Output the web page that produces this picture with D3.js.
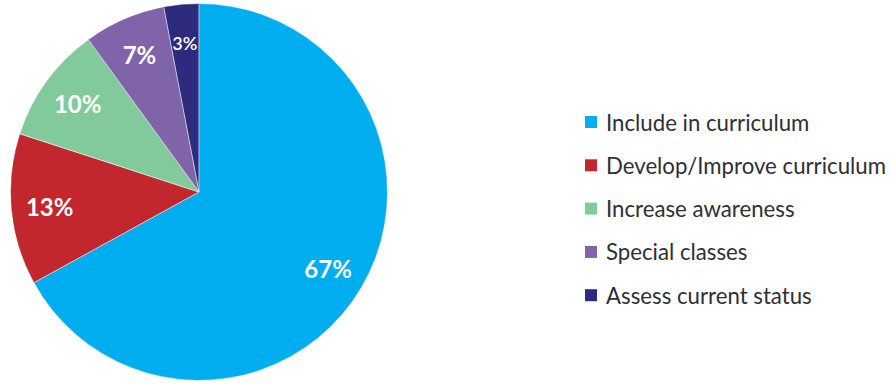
<!DOCTYPE html>
<html>
<head>
<meta charset="utf-8">
<script src="https://cdn.jsdelivr.net/npm/d3@7"></script>
<style>
  html, body { margin: 0; padding: 0; background: #ffffff; }
  svg { display: block; }
</style>
</head>
<body>
<svg id="chart" width="893" height="384"></svg>
<script>
// Survey responses: share of each recommended action
const categories = [
  "Include in curriculum",
  "Develop/Improve curriculum",
  "Increase awareness",
  "Special classes",
  "Assess current status"
];
const values = [67, 13, 10, 7, 3];
const colors = ["#00AEEF", "#C1272D", "#82CA9C", "#8064A9", "#2E2A7D"];

const svg = d3.select("#chart");
const cx = 199, cy = 192, radius = 188;
const FONT = "Lato, 'Open Sans', sans-serif";

const pie = d3.pie().sort(null).value(d => d.value);
const arcs = pie(categories.map((c, i) => ({ name: c, value: values[i], color: colors[i] })));

const arc = d3.arc().innerRadius(0).outerRadius(radius);
const labelArc = d3.arc().innerRadius(150).outerRadius(150);

const g = svg.append("g").attr("transform", `translate(${cx},${cy})`);

g.selectAll("path.slice")
  .data(arcs)
  .join("path")
  .attr("class", "slice")
  .attr("d", arc)
  .attr("fill", d => d.data.color)
  .attr("stroke", d => d.data.color)
  .attr("stroke-width", 0.5);

// thin light divider lines between slices
g.selectAll("line.div")
  .data(arcs)
  .join("line")
  .attr("class", "div")
  .attr("x1", 0).attr("y1", 0)
  .attr("x2", d => radius * Math.sin(d.startAngle))
  .attr("y2", d => -radius * Math.cos(d.startAngle))
  .attr("stroke", "#e8eef2")
  .attr("stroke-width", 0.8);

g.selectAll("text.pct")
  .data(arcs)
  .join("text")
  .attr("class", "pct")
  .attr("transform", d => `translate(${labelArc.centroid(d)})`)
  .attr("text-anchor", "middle")
  .attr("dominant-baseline", "central")
  .attr("font-family", FONT)
  .attr("font-weight", d => d.data.value < 5 ? 600 : 700)
  .attr("font-size", d => d.data.value < 5 ? 18 : 24)
  .attr("fill", "#ffffff")
  .text(d => d.data.value + "%");

// Legend
const legend = svg.append("g").attr("transform", "translate(585,122)");
const rowH = 43.3;
const items = legend.selectAll("g.item")
  .data(arcs)
  .join("g")
  .attr("class", "item")
  .attr("transform", (d, i) => `translate(0,${i * rowH})`);

items.append("rect")
  .attr("x", 0).attr("y", -6)
  .attr("width", 12).attr("height", 12)
  .attr("fill", d => d.data.color);

const labels = items.append("text")
  .attr("x", 21)
  .attr("y", 0)
  .attr("dominant-baseline", "central")
  .attr("font-family", FONT)
  .attr("font-size", 22)
  .attr("fill", "#2f2f35")
  .text(d => d.data.name);

// size the legend font so the longest entry spans the legend column
const widest = d3.max(labels.nodes(), n => n.getComputedTextLength());
labels.attr("font-size", 22 * 280 / widest);
</script>
</body>
</html>
